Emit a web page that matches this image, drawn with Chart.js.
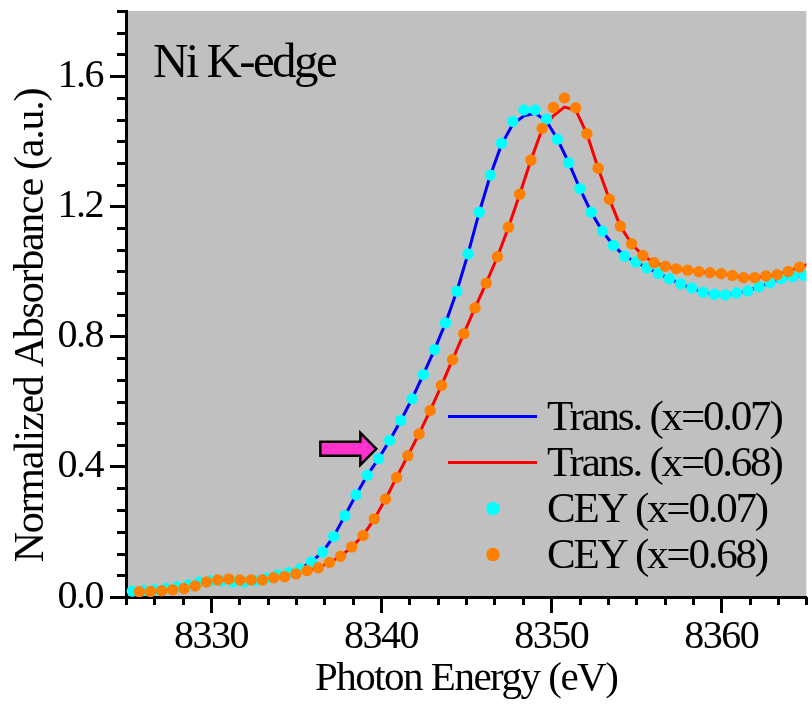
<!DOCTYPE html>
<html><head><meta charset="utf-8">
<script src="https://cdn.jsdelivr.net/npm/chart.js@4.4.1/dist/chart.umd.min.js"></script>
<style>html,body{margin:0;padding:0;background:#fff;}#wrap{width:812px;height:704px;}</style>
</head><body><div id="wrap"><canvas id="c" width="812" height="704"></canvas></div>
<script>
// ---- data ----
const cey007X = [8325.37,8326.03,8326.69,8327.34,8328.00,8328.66,8329.32,8329.98,8330.63,8331.29,
  8331.95,8332.61,8333.27,8333.92,8334.58,8335.24,8335.90,8336.56,8337.21,8337.87,
  8338.53,8339.19,8339.85,8340.50,8341.16,8341.82,8342.48,8343.14,8343.79,8344.45,
  8345.11,8345.77,8346.43,8347.08,8347.74,8348.40,8349.06,8349.72,8350.37,8351.03,
  8351.69,8352.35,8353.01,8353.66,8354.32,8354.98,8355.64,8356.30,8356.95,8357.61,
  8358.27,8358.93,8359.59,8360.24,8360.90,8361.56,8362.22,8362.88,8363.53,8364.19,8364.85];
const cey007Y = [0.018,0.020,0.022,0.026,0.031,0.037,0.046,0.050,0.049,0.046,
  0.046,0.050,0.058,0.068,0.075,0.086,0.108,0.138,0.186,0.250,
  0.314,0.374,0.425,0.481,0.542,0.609,0.683,0.760,0.842,0.939,
  1.054,1.182,1.296,1.394,1.461,1.496,1.496,1.468,1.406,1.334,
  1.254,1.182,1.124,1.080,1.047,1.029,1.011,0.994,0.978,0.962,
  0.949,0.936,0.930,0.928,0.934,0.940,0.953,0.965,0.978,0.984,0.988];
const trans007Y = [0.018,0.020,0.022,0.026,0.031,0.037,0.046,0.050,0.049,0.046,
  0.046,0.050,0.058,0.068,0.075,0.086,0.108,0.138,0.186,0.250,
  0.314,0.374,0.425,0.481,0.542,0.609,0.683,0.760,0.842,0.939,
  1.054,1.182,1.296,1.390,1.452,1.478,1.486,1.462,1.406,1.334,
  1.254,1.182,1.124,1.080,1.047,1.029,1.011,0.994,0.978,0.962,
  0.949,0.936,0.930,0.928,0.934,0.940,0.953,0.965,0.978,0.984,0.988];
const cey068X = [8325.78,8326.44,8327.10,8327.75,8328.41,8329.07,8329.73,8330.39,8331.04,8331.70,
  8332.36,8333.02,8333.68,8334.33,8334.99,8335.65,8336.31,8336.97,8337.62,8338.28,
  8338.94,8339.60,8340.26,8340.91,8341.57,8342.23,8342.89,8343.55,8344.20,8344.86,
  8345.52,8346.18,8346.84,8347.49,8348.15,8348.81,8349.47,8350.13,8350.78,8351.44,
  8352.10,8352.76,8353.42,8354.07,8354.73,8355.39,8356.05,8356.71,8357.36,8358.02,
  8358.68,8359.34,8360.00,8360.65,8361.31,8361.97,8362.63,8363.29,8363.94,8364.60];
const cey068Y = [0.016,0.017,0.019,0.022,0.026,0.034,0.046,0.052,0.055,0.052,
  0.052,0.052,0.059,0.062,0.071,0.081,0.090,0.106,0.125,0.154,
  0.189,0.240,0.301,0.367,0.434,0.501,0.573,0.650,0.729,0.809,
  0.888,0.964,1.045,1.136,1.237,1.342,1.439,1.504,1.533,1.503,
  1.423,1.317,1.222,1.139,1.085,1.049,1.027,1.016,1.008,1.004,
  0.999,0.996,0.993,0.988,0.981,0.981,0.986,0.990,1.000,1.013];
const trans068X = [8325.78,8326.44,8327.10,8327.75,8328.41,8329.07,8329.73,8330.39,8331.04,8331.70,
  8332.36,8333.02,8333.68,8334.33,8334.99,8335.65,8336.31,8336.97,8337.62,8338.28,
  8338.94,8339.60,8340.26,8340.91,8341.57,8342.23,8342.89,8343.55,8344.20,8344.86,
  8345.52,8346.18,8346.84,8347.49,8348.15,8348.81,8349.47,8350.13,8350.78,8351.44,
  8352.10,8352.76,8353.42,8354.07,8354.73,8355.39,8356.05,8356.71,8357.36,8358.02,
  8358.68,8359.34,8360.00,8360.65,8361.31,8361.97,8362.63,8363.29,8363.94,8364.60,8365.26];
const trans068Y = [0.016,0.017,0.019,0.022,0.026,0.034,0.046,0.052,0.055,0.052,
  0.052,0.052,0.059,0.062,0.071,0.081,0.090,0.106,0.125,0.154,
  0.189,0.240,0.301,0.367,0.434,0.501,0.573,0.650,0.729,0.809,
  0.888,0.964,1.045,1.136,1.237,1.342,1.437,1.478,1.505,1.496,
  1.423,1.317,1.222,1.139,1.085,1.049,1.027,1.016,1.008,1.004,
  0.999,0.996,0.993,0.988,0.981,0.981,0.986,0.990,1.000,1.013,1.025];
const seriesLabels = ['Trans. (x=0.07)','Trans. (x=0.68)','CEY (x=0.07)','CEY (x=0.68)'];
const xMajorTicks = [8330, 8340, 8350, 8360];
const yMajorTicks = [0.0, 0.4, 0.8, 1.2, 1.6];
const xRange = [8325, 8365];
const yRange = [0, 1.8];
const annotationText = 'Ni K-edge';
const xTitle = 'Photon Energy (eV)';
const yTitle = 'Normalized Absorbance (a.u.)';
const arrowTip = {x: 8339.72, y: 0.455};

// ---- styling ----
const SERIF = '"Liberation Serif", "Times New Roman", serif';
const pts = (xs, ys) => xs.map((x, i) => ({x, y: ys[i]}));
const minorVals = (lo, hi, step) => { const a=[]; for (let k=0; lo+k*step <= hi+1e-9; k++) a.push(lo+k*step); return a; };
const isMajor = (v, majors) => majors.some(m => Math.abs(m - v) < 1e-6);

const bgPlugin = {
  id: 'bg',
  beforeDraw(chart) {
    const {ctx, chartArea: a} = chart;
    ctx.save();
    ctx.fillStyle = '#c0c0c0';
    ctx.fillRect(a.left, a.top, a.right - a.left, a.bottom - a.top);
    ctx.restore();
    ctx.letterSpacing = '-1.5px';
  }
};

const decorPlugin = {
  id: 'decor',
  afterDraw(chart) {
    const {ctx, scales: {x, y}, chartArea: a} = chart;
    // minor ticks
    ctx.save();
    ctx.strokeStyle = '#000'; ctx.lineWidth = 3;
    ctx.beginPath();
    minorVals(xRange[0], xRange[1], 10/6).forEach(v => {
      if (isMajor(v, xMajorTicks)) return;
      const px = Math.round(x.getPixelForValue(v)) + 0.5;
      ctx.moveTo(px, a.bottom); ctx.lineTo(px, a.bottom + 8);
    });
    minorVals(yRange[0], yRange[1], 0.4/6).forEach(v => {
      if (isMajor(v, yMajorTicks)) return;
      const py = Math.round(y.getPixelForValue(v)) + 0.5;
      ctx.moveTo(a.left, py); ctx.lineTo(a.left - 9, py);
    });
    ctx.stroke();
    ctx.restore();

    // y axis title
    ctx.save();
    ctx.letterSpacing = '-1.25px';
    ctx.font = `42px ${SERIF}`;
    ctx.fillStyle = '#000';
    ctx.textAlign = 'center'; ctx.textBaseline = 'alphabetic';
    ctx.translate(43.3, 325.5);
    ctx.rotate(-Math.PI / 2);
    ctx.fillText(yTitle, 0, 0);
    ctx.restore();

    // Ni K-edge label
    ctx.save();
    ctx.letterSpacing = '-2.6px';
    ctx.font = `49px ${SERIF}`;
    ctx.fillStyle = '#000';
    ctx.textBaseline = 'alphabetic';
    ctx.fillText(annotationText, a.left + 27, a.top + 66);
    ctx.restore();

    // legend
    ctx.save();
    ctx.letterSpacing = '-2.2px';
    ctx.font = `43px ${SERIF}`;
    ctx.textBaseline = 'alphabetic';
    chart.data.datasets.forEach((ds, i) => {
      const base = 430 + i * 46;
      const my = base - 13.5;
      if (ds.showLine === false) {
        ctx.fillStyle = ds.pointBackgroundColor;
        ctx.beginPath(); ctx.arc(493, my, 6.8, 0, Math.PI * 2); ctx.fill();
      } else {
        ctx.strokeStyle = ds.borderColor; ctx.lineWidth = 3;
        ctx.beginPath(); ctx.moveTo(448, my); ctx.lineTo(537, my); ctx.stroke();
      }
      ctx.fillStyle = '#000';
      ctx.fillText(ds.label, 547, base);
    });
    ctx.restore();

    // arrow
    const tx = x.getPixelForValue(arrowTip.x), ty = y.getPixelForValue(arrowTip.y);
    ctx.save();
    ctx.beginPath();
    ctx.moveTo(tx, ty);
    ctx.lineTo(tx - 16, ty - 16);
    ctx.lineTo(tx - 16, ty - 7);
    ctx.lineTo(tx - 56, ty - 7);
    ctx.lineTo(tx - 56, ty + 7);
    ctx.lineTo(tx - 16, ty + 7);
    ctx.lineTo(tx - 16, ty + 16);
    ctx.closePath();
    ctx.fillStyle = '#ff33cc';
    ctx.fill();
    ctx.lineWidth = 2.5; ctx.strokeStyle = '#000'; ctx.lineJoin = 'miter';
    ctx.stroke();
    ctx.restore();
  }
};

new Chart(document.getElementById('c').getContext('2d'), {
  type: 'line',
  data: {
    datasets: [
      {label: seriesLabels[0], data: pts(cey007X, trans007Y), borderColor: '#0000ff', borderWidth: 3, pointRadius: 0, tension: 0, order: 3},
      {label: seriesLabels[1], data: pts(trans068X, trans068Y), borderColor: '#ff0000', borderWidth: 3, pointRadius: 0, tension: 0, order: 2},
      {label: seriesLabels[2], data: pts(cey007X, cey007Y), showLine: false, pointRadius: 5.7, pointBackgroundColor: '#00ffff', borderColor: '#00ffff', pointBorderWidth: 0, order: 1},
      {label: seriesLabels[3], data: pts(cey068X, cey068Y), showLine: false, pointRadius: 5.7, pointBackgroundColor: '#ff8000', borderColor: '#ff8000', pointBorderWidth: 0, order: 0}
    ]
  },
  options: {
    responsive: false, animation: false, devicePixelRatio: 1,
    layout: {padding: {top: 11, left: 0, right: 0, bottom: 0}},
    plugins: {legend: {display: false}, tooltip: {enabled: false}},
    scales: {
      x: {
        type: 'linear', min: xRange[0], max: xRange[1],
        afterFit(s) { s.height = 107; s.paddingLeft = 0; s.paddingRight = 0; s.paddingTop = 0; s.paddingBottom = 0; },
        afterBuildTicks(s) { s.ticks = xMajorTicks.map(v => ({value: v})); },
        grid: {display: true, drawOnChartArea: false, drawTicks: true, tickLength: 16, tickWidth: 3, tickColor: '#000'},
        border: {display: true, color: '#000', width: 3},
        ticks: {color: '#000', font: {family: SERIF, size: 40, lineHeight: 1}, padding: 4, maxRotation: 0, autoSkip: false, callback: v => String(v)},
        title: {display: true, text: xTitle, color: '#000', font: {family: SERIF, size: 41, lineHeight: 1.2}, padding: {top: 0, bottom: 0}}
      },
      y: {
        type: 'linear', min: yRange[0], max: yRange[1],
        afterFit(s) { s.width = 126; s.paddingLeft = 0; s.paddingRight = 0; s.paddingTop = 0; s.paddingBottom = 0; },
        afterBuildTicks(s) { s.ticks = yMajorTicks.map(v => ({value: v})); },
        grid: {display: true, drawOnChartArea: false, drawTicks: true, tickLength: 16, tickWidth: 3, tickColor: '#000'},
        border: {display: true, color: '#000', width: 3},
        ticks: {color: '#000', font: {family: SERIF, size: 40, lineHeight: 1}, padding: 7, autoSkip: false, callback: v => v.toFixed(1)},
        title: {display: false}
      }
    }
  },
  plugins: [bgPlugin, decorPlugin]
});
</script>
</body></html>
